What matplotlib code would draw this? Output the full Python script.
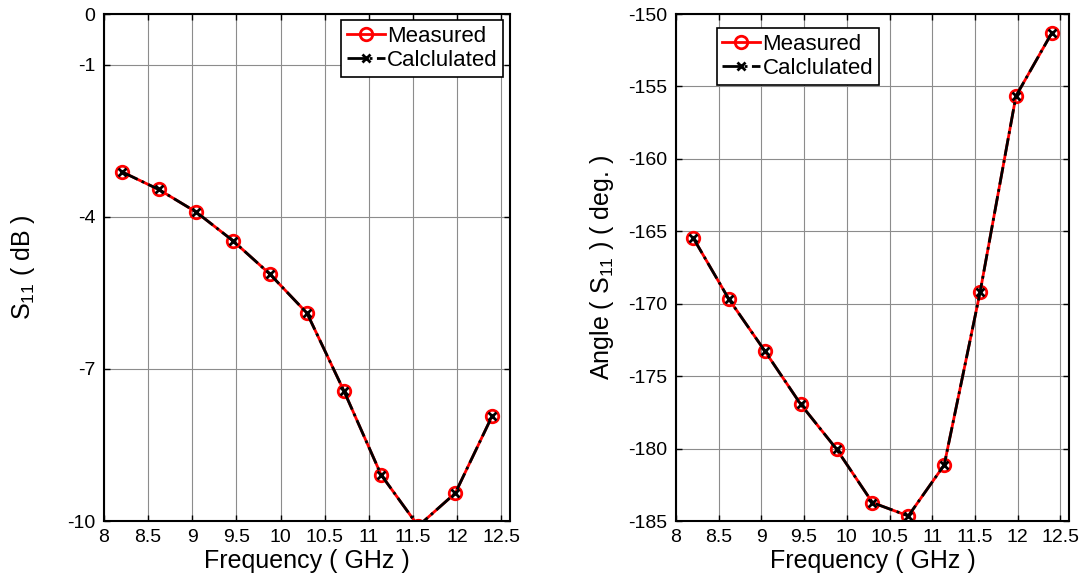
import matplotlib.pyplot as plt
import numpy as np

plt.rcParams['font.family'] = ['Liberation Sans', 'DejaVu Sans']
plt.rcParams['mathtext.fontset'] = 'custom'
plt.rcParams['mathtext.rm'] = 'Liberation Sans'
plt.rcParams['mathtext.it'] = 'Liberation Sans'

freq = [8.2, 8.62, 9.04, 9.46, 9.88, 10.3, 10.72, 11.14, 11.56, 11.98, 12.4]
s11_meas = [-3.11, -3.46, -3.90, -4.47, -5.13, -5.90, -7.44, -9.09, -10.1, -9.45, -7.92]
s11_calc = [-3.11, -3.46, -3.90, -4.47, -5.13, -5.90, -7.44, -9.09, -10.1, -9.45, -7.92]
ang_meas = [-165.44, -169.69, -173.26, -176.94, -180.04, -183.73, -184.65, -181.13, -169.2, -155.66, -151.3]
ang_calc = [-165.44, -169.69, -173.26, -176.94, -180.04, -183.73, -184.65, -181.13, -169.2, -155.66, -151.3]

xticks = [8, 8.5, 9, 9.5, 10, 10.5, 11, 11.5, 12, 12.5]
xticklabels = ['8', '8.5', '9', '9.5', '10', '10.5', '11', '11.5', '12', '12.5']
s11_ticks = [-10, -7, -4, -1, 0]
ang_ticks = [-185, -180, -175, -170, -165, -160, -155, -150]

fig = plt.figure(figsize=(10.84, 5.82), dpi=100)
ax1 = fig.add_axes([0.0959, 0.1048, 0.3746, 0.8711])
ax2 = fig.add_axes([0.6236, 0.1048, 0.3625, 0.8711])


def style(ax):
    ax.grid(True, color='#8c8c8c', linewidth=0.8)
    ax.set_axisbelow(True)
    ax.tick_params(direction='in', top=True, right=True, labelsize=14,
                   length=4, width=1, pad=6)
    for sp in ax.spines.values():
        sp.set_linewidth(1.5)
    ax.set_xlim(8, 12.6)
    ax.set_xticks(xticks)
    ax.set_xticklabels(xticklabels)
    ax.set_xlabel('Frequency ( GHz )', fontsize=18, labelpad=2)


def draw(ax, meas, calc):
    ax.plot(freq, meas, color='red', linewidth=2, marker='o', markersize=9,
            markerfacecolor='none', markeredgecolor='red', markeredgewidth=2,
            label='Measured')
    ax.plot(freq, calc, color='black', linewidth=2, linestyle='-.', marker='x',
            markersize=6, markeredgewidth=2, label='Calclulated')


draw(ax1, s11_meas, s11_calc)
style(ax1)
ax1.set_ylim(-10, 0)
ax1.set_yticks(s11_ticks)
ax1.set_yticklabels([str(t) for t in s11_ticks])
ax1.set_ylabel('S$_{11}$ ( dB )', fontsize=18, labelpad=22)
leg1 = ax1.legend(loc='upper right', bbox_to_anchor=(0.983, 0.988), fontsize=16,
                  handlelength=1.7, handletextpad=0.1, borderpad=0.25,
                  labelspacing=0.15, fancybox=False, framealpha=1,
                  edgecolor='black', borderaxespad=0)
leg1.get_frame().set_linewidth(1.2)

draw(ax2, ang_meas, ang_calc)
style(ax2)
ax2.set_ylim(-185, -150)
ax2.set_yticks(ang_ticks)
ax2.set_yticklabels([str(t) for t in ang_ticks])
ax2.set_ylabel('Angle ( S$_{11}$ ) ( deg. )', fontsize=18, labelpad=9)
leg2 = ax2.legend(loc='upper left', bbox_to_anchor=(0.104, 0.972), fontsize=16,
                  handlelength=1.7, handletextpad=0.1, borderpad=0.25,
                  labelspacing=0.15, fancybox=False, framealpha=1,
                  edgecolor='black', borderaxespad=0)
leg2.get_frame().set_linewidth(1.2)

fig.savefig('out.png', dpi=100)
